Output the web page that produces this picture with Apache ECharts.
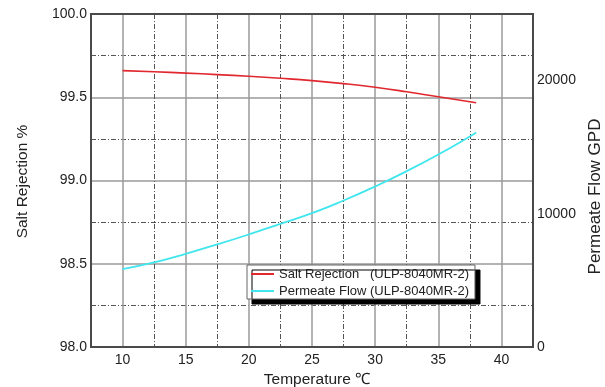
<!DOCTYPE html>
<html>
<head>
<meta charset="utf-8">
<script src="https://cdn.jsdelivr.net/npm/echarts@6/dist/echarts.min.js"></script>
<style>
  html, body { margin: 0; padding: 0; background: #fff; }
  #chart { width: 605px; height: 387px; }
</style>
</head>
<body>
<div id="chart"></div>
<script>
// Feed-water temperature (°C)
const temperature = [10, 12.5, 15, 17.5, 20, 22.5, 25, 27.5, 30, 32.5, 35, 37.5, 38];
// Salt rejection (%)
const saltRejection = [99.66, 99.653, 99.645, 99.636, 99.626, 99.614, 99.600, 99.582, 99.560, 99.533, 99.503, 99.473, 99.467];
// Permeate flow (GPD)
const permeateFlow = [5850, 6350, 7000, 7700, 8450, 9250, 10050, 11000, 12050, 13200, 14450, 15800, 16100];

const modelName = '(ULP-8040MR-2)';
const seriesLabels = ['Salt Rejection', 'Permeate Flow'];
const leftTicks = [98.0, 98.5, 99.0, 99.5, 100.0];
const rightTicks = [0, 10000, 20000];
const xTicks = [10, 15, 20, 25, 30, 35, 40];

const FONT = '"Liberation Sans", Arial, sans-serif';
const SOLID = '#9a9a9a';
const DASH = '#555';
const DASH_TYPE = [5, 2, 1, 2];
const CLEAR = 'rgba(0,0,0,0)';

const pairs = (xs, ys) => xs.map((x, i) => [x, ys[i]]);

const chart = echarts.init(document.getElementById('chart'), null, { renderer: 'canvas' });

chart.setOption({
  backgroundColor: '#fff',
  animation: false,
  textStyle: { fontFamily: FONT },
  grid: {
    left: 91, top: 14, right: 72, bottom: 40,
    outerBoundsMode: 'none',
    show: true, borderColor: '#4a4a4a', borderWidth: 2, backgroundColor: 'transparent',
    z: 3
  },
  legend: {
    orient: 'vertical',
    left: 247, top: 265,
    padding: [1, 6, 0, 4],
    itemGap: 1,
    itemWidth: 23, itemHeight: 2,
    icon: 'rect',
    backgroundColor: '#fff',
    borderColor: '#666', borderWidth: 1,
    shadowColor: '#000', shadowBlur: 0, shadowOffsetX: 5, shadowOffsetY: 5,
    textStyle: {
      fontFamily: FONT, fontSize: 13, color: '#222', lineHeight: 16,
      rich: {
        a: { fontFamily: FONT, fontSize: 13, color: '#222', width: 91, lineHeight: 16 },
        b: { fontFamily: FONT, fontSize: 13, color: '#222', lineHeight: 16 }
      }
    },
    formatter: (name) => {
      const idx = name.indexOf(' (');
      return '{a|' + name.slice(0, idx) + '}{b|' + name.slice(idx + 1) + '}';
    },
    data: seriesLabels.map(s => s + ' ' + modelName)
  },
  xAxis: [
    {
      type: 'value', min: 7.5, max: 42.5, interval: 2.5,
      name: 'Temperature ℃', nameLocation: 'middle', nameGap: 15,
      nameTextStyle: { fontFamily: FONT, fontSize: 15.5, color: '#222', padding: [0, 0, 0, 10] },
      axisLine: { show: false }, axisTick: { show: false },
      axisLabel: {
        fontFamily: FONT, fontSize: 14, color: '#222', margin: 6,
        formatter: v => (xTicks.indexOf(v) >= 0 ? String(v) : '')
      },
      splitLine: { show: true, lineStyle: { color: [CLEAR, SOLID], width: 1.5 } }
    },
    {
      type: 'value', min: 7.5, max: 42.5, interval: 2.5, position: 'top',
      axisLine: { show: false }, axisTick: { show: false }, axisLabel: { show: false },
      splitLine: { show: true, lineStyle: { color: [DASH, CLEAR], width: 1, type: DASH_TYPE } }
    }
  ],
  yAxis: [
    {
      type: 'value', min: 98, max: 100, interval: 0.5, position: 'left',
      name: 'Salt Rejection %', nameLocation: 'middle', nameGap: 60,
      nameTextStyle: { fontFamily: FONT, fontSize: 15.5, color: '#222', padding: [0, 2, 0, 0] },
      axisLine: { show: false }, axisTick: { show: false },
      axisLabel: {
        fontFamily: FONT, fontSize: 14, color: '#222', margin: 4,
        formatter: v => (leftTicks.indexOf(v) >= 0 ? v.toFixed(1) : '')
      },
      splitLine: { show: true, lineStyle: { color: SOLID, width: 1.5 } },
      minorTick: { show: false, splitNumber: 2 },
      minorSplitLine: { show: true, lineStyle: { color: DASH, width: 1, type: DASH_TYPE } }
    },
    {
      type: 'value', min: 0, max: 25000, interval: 10000, position: 'right',
      name: 'Permeate Flow GPD', nameLocation: 'middle', nameGap: 54,
      nameTextStyle: { fontFamily: FONT, fontSize: 17, color: '#222', padding: [0, 32, 0, 0] },
      axisLine: { show: false }, axisTick: { show: false },
      axisLabel: {
        fontFamily: FONT, fontSize: 14, color: '#222', margin: 4,
        formatter: v => (rightTicks.indexOf(v) >= 0 ? String(v) : '')
      },
      splitLine: { show: false }
    }
  ],
  series: [
    {
      name: seriesLabels[0] + ' ' + modelName,
      type: 'line', xAxisIndex: 0, yAxisIndex: 0,
      smooth: true, showSymbol: false, symbol: 'none',
      lineStyle: { color: '#e0282e', width: 1.6 },
      itemStyle: { color: '#e0282e' },
      data: pairs(temperature, saltRejection),
      z: 4
    },
    {
      name: seriesLabels[1] + ' ' + modelName,
      type: 'line', xAxisIndex: 0, yAxisIndex: 1,
      smooth: true, showSymbol: false, symbol: 'none',
      lineStyle: { color: '#3fe6ee', width: 1.8 },
      itemStyle: { color: '#3fe6ee' },
      data: pairs(temperature, permeateFlow),
      z: 4
    }
  ]
});
</script>
</body>
</html>
